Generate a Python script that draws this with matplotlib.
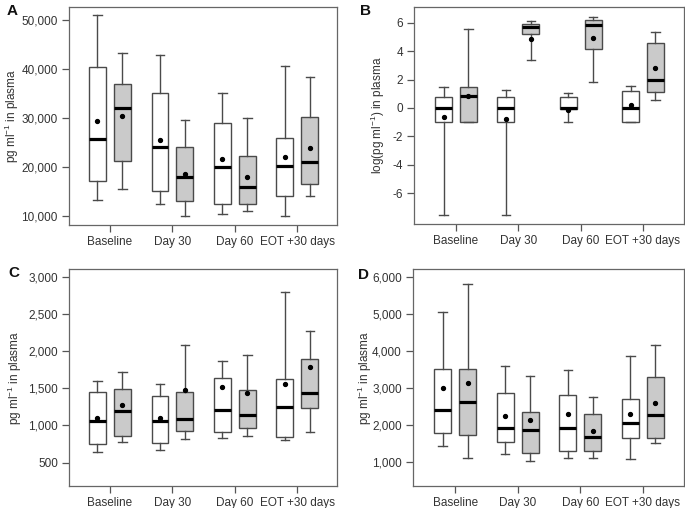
import numpy as np
import matplotlib
matplotlib.use('Agg')
import matplotlib.pyplot as plt
from matplotlib.ticker import FuncFormatter

plt.rcParams['font.family'] = ['Liberation Sans', 'DejaVu Sans']
plt.rcParams['axes.unicode_minus'] = False

timepoints = ['Baseline', 'Day 30', 'Day 60', 'EOT +30 days']

# each row: whisker low, Q1, median, Q3, whisker high, mean
a_white = [[13200, 17100, 25700, 40500, 51000, 29450],
           [12500, 15000, 24000, 35200, 42800, 25500],
           [10400, 12400, 20100, 29000, 35200, 21700],
           [9950, 14050, 20250, 25900, 40700, 22100]]
a_grey = [[15600, 21200, 32000, 37000, 43300, 30500],
          [10100, 13000, 18000, 24000, 29500, 18500],
          [11100, 12500, 15900, 22150, 30100, 17950],
          [14100, 16550, 21100, 30300, 38400, 23950]]

b_white = [[-7.52, -1.0, 0.0, 0.8, 1.5, -0.65],
           [-7.52, -1.0, 0.0, 0.8, 1.24, -0.78],
           [-0.98, -0.05, 0.02, 0.8, 1.08, -0.15],
           [-1.0, -1.0, 0.0, 1.16, 1.52, 0.19]]
b_grey = [[-1.0, -1.0, 0.84, 1.45, 5.58, 0.87],
          [3.35, 5.18, 5.67, 5.9, 6.12, 4.87],
          [1.85, 4.16, 5.82, 6.19, 6.42, 4.9],
          [0.53, 1.09, 1.96, 4.55, 5.34, 2.79]]

c_white = [[645, 750, 1060, 1448, 1597, 1100],
           [663, 760, 1058, 1396, 1560, 1093],
           [826, 911, 1213, 1635, 1868, 1518],
           [799, 849, 1248, 1631, 2798, 1554]]
c_grey = [[778, 863, 1196, 1486, 1715, 1275],
          [822, 931, 1080, 1446, 2083, 1470],
          [862, 965, 1145, 1473, 1945, 1432],
          [907, 1240, 1432, 1895, 2272, 1787]]

d_white = [[1441, 1784, 2414, 3514, 5070, 3008],
           [1216, 1541, 1935, 2865, 3595, 2251],
           [1116, 1297, 1935, 2811, 3486, 2314],
           [1097, 1649, 2070, 2719, 3873, 2314]]
d_grey = [[1108, 1738, 2638, 3514, 5820, 3144],
          [1043, 1259, 1865, 2369, 3324, 2143],
          [1116, 1305, 1692, 2306, 2773, 1838],
          [1530, 1665, 2278, 3305, 4170, 2603]]

ylab_conc = r'pg ml$^{\mathregular{-1}}$ in plasma'
ylab_log = r'log(pg ml$^{\mathregular{-1}}$) in plasma'

edge = '#4a4a4a'
txt = '#333333'


def make_stats(rows):
    return [dict(whislo=r[0], q1=r[1], med=r[2], q3=r[3], whishi=r[4],
                 mean=r[5], fliers=[]) for r in rows]


def draw_panel(ax, white, grey, fill):
    x = np.arange(1, len(timepoints) + 1)
    for rows, off, fc in [(white, -0.2, 'white'), (grey, 0.2, fill)]:
        ax.bxp(make_stats(rows), positions=x + off, widths=0.27,
               patch_artist=True, showmeans=True, manage_ticks=False,
               boxprops=dict(facecolor=fc, edgecolor=edge, linewidth=1.0),
               whiskerprops=dict(color=edge, linewidth=1.0),
               capprops=dict(color=edge, linewidth=1.0),
               medianprops=dict(color='black', linewidth=2.3,
                                solid_capstyle='butt'),
               meanprops=dict(marker='o', markerfacecolor='black',
                              markeredgecolor='black', markersize=2.8))
    ax.set_xticks(x)
    ax.set_xticklabels(timepoints)
    ax.tick_params(direction='out', length=5, width=0.9, color='#555555',
                   labelsize=8.5, labelcolor=txt, pad=3)
    for s in ax.spines.values():
        s.set_color('#666666')
        s.set_linewidth(0.9)


fig = plt.figure(figsize=(6.85, 5.08), dpi=100)
W, H = 685.0, 508.0


def add_axes(l, r, t, b):
    return fig.add_axes([l / W, 1 - b / H, (r - l) / W, (b - t) / H])


axA = add_axes(69, 337, 7, 224.5)
axB = add_axes(414, 684, 7, 223.5)
axC = add_axes(69, 337, 269, 486)
axD = add_axes(413, 684, 269, 486)

grey_fill = '#cacaca'
comma = FuncFormatter(lambda v, p: f'{v:,.0f}')

draw_panel(axA, a_white, a_grey, grey_fill)
axA.set_xlim(0.344, 4.635)
axA.set_ylim(8265, 52650)
axA.set_yticks([10000, 20000, 30000, 40000, 50000])
axA.yaxis.set_major_formatter(comma)
axA.set_ylabel(ylab_conc, fontsize=8.5, color=txt)
axA.yaxis.set_label_coords(-0.18, 0.5)

draw_panel(axB, b_white, b_grey, grey_fill)
axB.set_xlim(0.326, 4.658)
axB.set_ylim(-8.12, 7.1)
axB.set_yticks([-6, -4, -2, 0, 2, 4, 6])
axB.set_ylabel(ylab_log, fontsize=8.5, color=txt)
axB.yaxis.set_label_coords(-0.10, 0.5)

draw_panel(axC, c_white, c_grey, grey_fill)
axC.set_xlim(0.344, 4.635)
axC.set_ylim(185, 3104)
axC.set_yticks([500, 1000, 1500, 2000, 2500, 3000])
axC.yaxis.set_major_formatter(comma)
axC.set_ylabel(ylab_conc, fontsize=8.5, color=txt)
axC.yaxis.set_label_coords(-0.168, 0.5)

draw_panel(axD, d_white, d_grey, grey_fill)
axD.set_xlim(0.326, 4.658)
axD.set_ylim(359, 6224)
axD.set_yticks([1000, 2000, 3000, 4000, 5000, 6000])
axD.yaxis.set_major_formatter(comma)
axD.set_ylabel(ylab_conc, fontsize=8.5, color=txt)
axD.yaxis.set_label_coords(-0.145, 0.5)

for letter, px, py in [('A', 7, 4), ('B', 360, 4), ('C', 8, 266), ('D', 358, 268)]:
    fig.text(px / W, 1 - py / H, letter, fontsize=11, fontweight='bold',
             color='#111111', ha='left', va='top')

fig.savefig('out.png', dpi=100)
